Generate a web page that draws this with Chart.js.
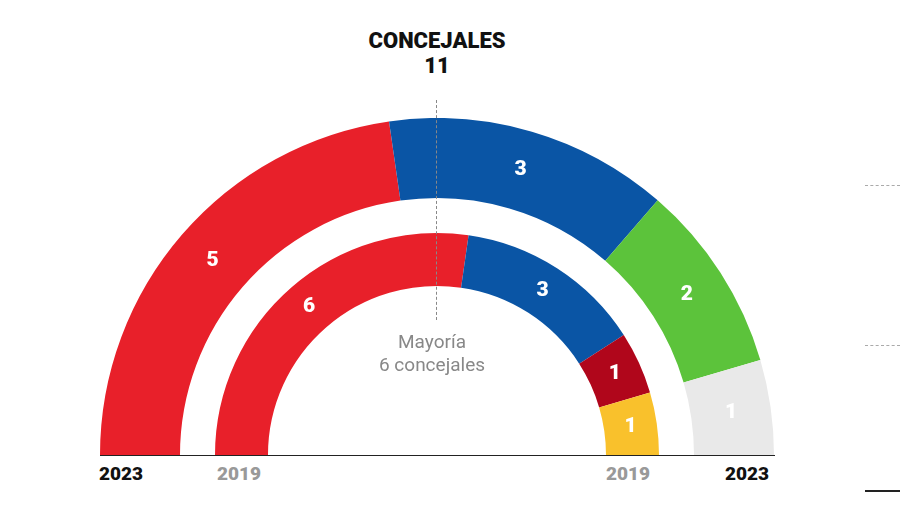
<!DOCTYPE html>
<html>
<head>
<meta charset="utf-8" />
<script src="https://cdn.jsdelivr.net/npm/chart.js"></script>
<style>
  body, html { margin: 0; padding: 0; background: #fff; width: 900px; height: 506px; overflow: hidden; font-family: "Roboto", "Liberation Sans", sans-serif; }
  #wrap { position: absolute; left: 100px; top: 118px; width: 674px; height: 337px; }
  .t { position: absolute; white-space: nowrap; }
</style>
</head>
<body>
<div id="wrap"><canvas id="c" width="674" height="337"></canvas></div>
<div class="t" style="left:0;width:874px;top:28px;text-align:center;font-weight:900;font-size:22px;line-height:25px;color:#111;">CONCEJALES<br>11</div>
<div style="position:absolute;left:436px;top:100px;height:220px;border-left:1.5px dashed #888;"></div>
<div class="t" style="left:332px;width:200px;top:330px;text-align:center;font-size:19px;line-height:23px;color:#888;">Mayoría<br>6 concejales</div>
<div style="position:absolute;left:100px;top:455px;width:675px;border-top:1px solid #222;"></div>
<div style="position:absolute;left:865px;top:185px;width:35px;border-top:1px dashed #aaa;"></div>
<div style="position:absolute;left:865px;top:345px;width:35px;border-top:1px dashed #aaa;"></div>
<div style="position:absolute;left:865px;top:490px;width:35px;border-top:2px solid #222;"></div>
<div class="t" style="left:99px;top:462px;font-weight:900;font-size:19px;color:#111;">2023</div>
<div class="t" style="left:217px;top:462px;font-weight:900;font-size:19px;color:#999;">2019</div>
<div class="t" style="left:606px;top:462px;font-weight:900;font-size:19px;color:#999;">2019</div>
<div class="t" style="left:725px;top:462px;font-weight:900;font-size:19px;color:#111;">2023</div>
<div id="err" class="t" style="left:10px;top:10px;color:red;font-size:12px;"></div>
<script>
const parties2023 = ["PSOE", "PP", "Otros", "Vacante"];
const seats2023 = [5, 3, 2, 1];
const colors2023 = ["#e8202a", "#0a55a5", "#5cc33b", "#e9e9e9"];
const parties2019 = ["PSOE", "PP", "Otros A", "Otros B"];
const seats2019 = [6, 3, 1, 1];
const colors2019 = ["#e8202a", "#0a55a5", "#b0061b", "#f9c12c"];

const labelPlugin = {
  id: "labels",
  afterDatasetsDraw(chart) {
    const ctx = chart.ctx;
    ctx.save();
    ctx.fillStyle = "#fff";
    ctx.font = "900 21px Roboto, 'Liberation Sans', sans-serif";
    ctx.textAlign = "center";
    ctx.textBaseline = "middle";
    [0, 2].forEach(di => {
      const ds = chart.data.datasets[di];
      chart.getDatasetMeta(di).data.forEach((arc, i) => {
        const p = arc.tooltipPosition();
        ctx.fillText(String(ds.data[i]), p.x, p.y);
      });
    });
    ctx.restore();
  }
};

try {
  new Chart(document.getElementById("c"), {
    type: "doughnut",
    data: {
      labels: parties2023,
      datasets: [
        { data: seats2023, backgroundColor: colors2023, weight: 80, borderWidth: 0 },
        { data: [11, 0, 0, 0], backgroundColor: "rgba(0,0,0,0)", weight: 35, borderWidth: 0 },
        { data: seats2019, backgroundColor: colors2019, weight: 53, borderWidth: 0 }
      ]
    },
    options: {
      responsive: false,
      animation: false,
      rotation: -90,
      circumference: 180,
      cutout: "50.15%",
      plugins: { legend: { display: false }, tooltip: { enabled: false } }
    },
    plugins: [labelPlugin]
  });
} catch (e) {
  document.getElementById("err").textContent = e.message;
}
</script>
</body>
</html>
